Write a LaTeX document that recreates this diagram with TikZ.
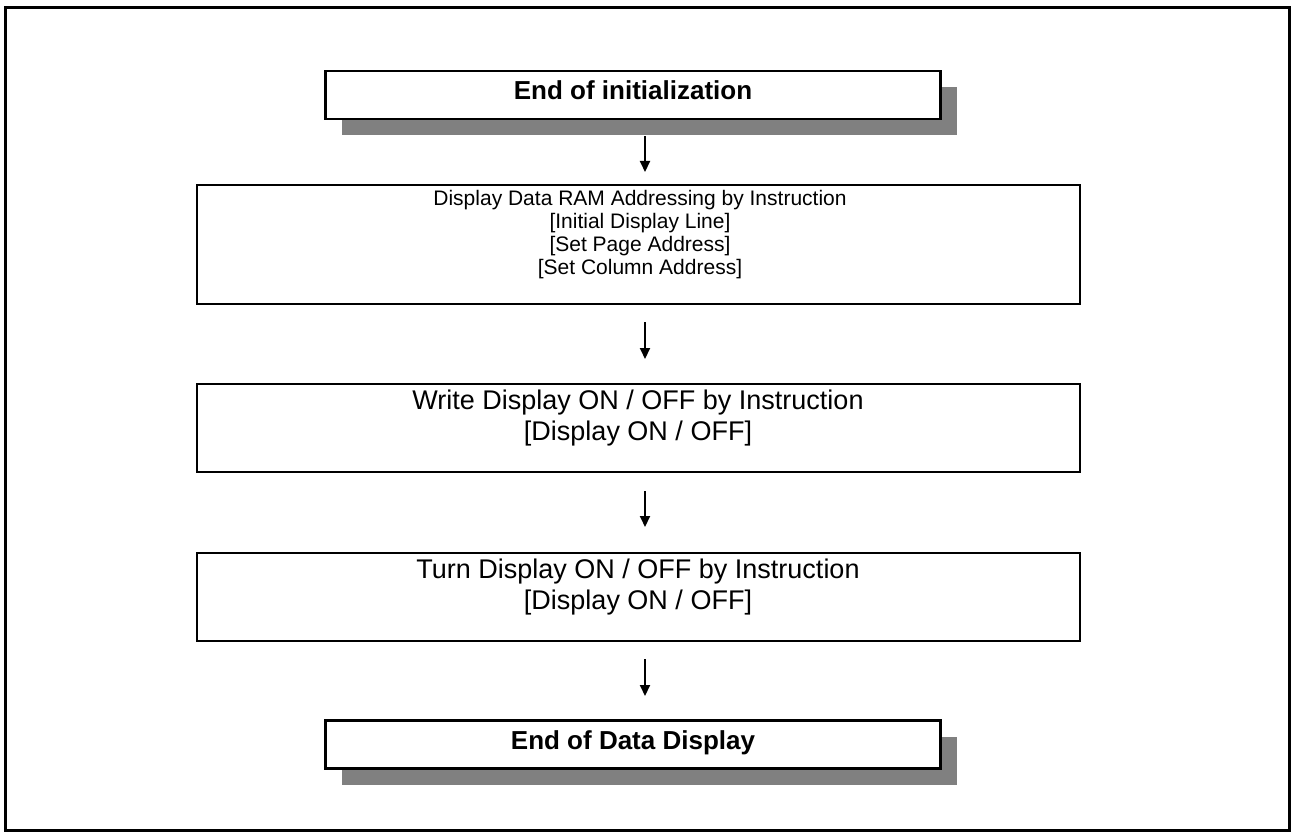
\documentclass[tikz,border=0pt]{standalone}
\usepackage{fontspec}
\setmainfont{Liberation Sans}
\usetikzlibrary{arrows.meta,shadows}
\definecolor{shade}{HTML}{808080}
\begin{document}
\begin{tikzpicture}[x=1pt,y=-1pt,
  box/.style={draw=black,line width=2.5pt,fill=white,inner sep=0pt},
  shadowbox/.style={box,drop shadow={shadow xshift=16pt,shadow yshift=-16pt,fill=shade,opacity=1}},
  boldtxt/.style={font=\bfseries\fontsize{26}{30}\selectfont,inner sep=0pt,anchor=base},
  smalltxt/.style={font=\fontsize{21}{23}\selectfont,align=center,inner sep=0pt},
  bigtxt/.style={font=\fontsize{27}{31}\selectfont,align=center,inner sep=0pt},
  arr/.style={line width=2pt,-{Triangle[length=11pt,width=10pt]}}]
\useasboundingbox (0,0) rectangle (1293,837);
\draw[line width=3pt] (5.5,7.5) rectangle (1289.5,830);

\node[shadowbox,minimum width=615,minimum height=48] (b1) at (633,95) {};
\node[boldtxt] (t1) at (633,100) {End of initialization};

\node[box,minimum width=883,minimum height=119] (b2) at (638.5,244.5) {};
\node[smalltxt] (t2) at (640,235) {Display Data RAM Addressing by Instruction\\{}[Initial Display Line]\\{}[Set Page Address]\\{}[Set Column Address]};

\node[box,minimum width=883,minimum height=88] (b3) at (638.5,428) {};
\node[bigtxt] (t3) at (638,418) {Write Display ON / OFF by Instruction\\{}[Display ON / OFF]};

\node[box,minimum width=883,minimum height=88] (b4) at (638.5,597) {};
\node[bigtxt] (t4) at (638,587) {Turn Display ON / OFF by Instruction\\{}[Display ON / OFF]};

\node[shadowbox,minimum width=615,minimum height=48] (b5) at (633,744.5) {};
\node[boldtxt] (t5) at (633,749) {End of Data Display};

\coordinate (a1s) at (645,136);
\coordinate (a1e) at (645,172);
\coordinate (a2s) at (645,322);
\coordinate (a2e) at (645,359);
\coordinate (a3s) at (645,491);
\coordinate (a3e) at (645,527);
\coordinate (a4s) at (645,659);
\coordinate (a4e) at (645,696);
\draw[arr] (a1s) -- (a1e);
\draw[arr] (a2s) -- (a2e);
\draw[arr] (a3s) -- (a3e);
\draw[arr] (a4s) -- (a4e);
\end{tikzpicture}
\end{document}
